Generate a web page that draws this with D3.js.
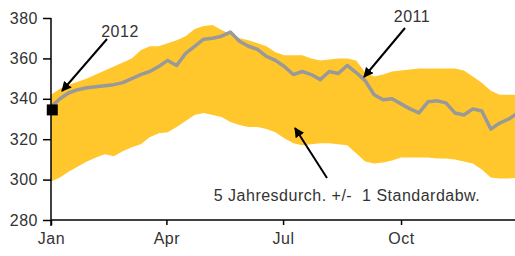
<html>
<head>
<meta charset="utf-8">
<script src="https://d3js.org/d3.v7.min.js"></script>
<style>
  body { margin: 0; background: white; }
  text { font-family: "Liberation Sans", Arial, sans-serif; fill: #333; letter-spacing: 0.5px; }
</style>
</head>
<body>
<svg id="chart" width="515" height="256"></svg>
<script>
// weekly values, week 0 = 1 Jan
var bandUpper = [342, 345, 347, 348.5, 350, 352, 354, 356, 358, 360, 364, 366, 366, 367.5, 369, 371, 374.5, 376, 376.5, 374,
                 372, 370, 369, 367.5, 366, 363, 361.5, 361.5, 361.5, 360, 359, 359.5, 360, 360, 359, 353, 351, 352, 353.5, 354,
                 354.5, 355, 355, 355, 355, 355, 354, 351, 348, 344, 342, 342, 342];
var bandLower = [299, 301, 304, 306.5, 309, 311, 312.5, 311.5, 314, 316, 317.5, 321, 323, 323.5, 326, 329, 332, 333, 332, 331,
                 328.5, 327, 326, 326, 325, 323.5, 320.5, 318, 317, 317.5, 318, 318, 317.5, 317, 313, 309, 308, 308.5, 309.5, 311,
                 311, 311, 311, 310.5, 310.5, 310, 309, 308, 305, 301, 300.5, 300.5, 301];
var line2011 = [336, 340, 343, 344.5, 345.5, 346, 346.5, 347, 348, 350, 352, 353.5, 356, 359, 356.5, 362.5, 366, 369.5, 370, 371,
                373, 368.5, 366, 364.5, 361, 359, 356, 352, 353.5, 352, 349.5, 353.5, 352.5, 356.5, 353, 349, 342, 339.5, 340, 337.5,
                335, 333, 338.5, 339, 338, 333, 332, 335, 334, 325, 328, 330, 333];
var value2012 = [334.5];
var yTicks = [280, 300, 320, 340, 360, 380];
var monthTicks = [0, 3, 6, 9];
var monthLabels = ["Jan", "Apr", "Jul", "Oct"];

var svg = d3.select("#chart");
var weekDate = function(i) { return new Date(2011, 0, 1 + 7 * i); };

var x = d3.scaleTime().domain([new Date(2011, 0, 1), new Date(2012, 0, 1)]).range([51, 519]);
var y = d3.scaleLinear().domain([280, 380]).range([220, 18]);

var band = bandUpper.map(function(u, i) { return { d: weekDate(i), hi: u, lo: bandLower[i] }; });

svg.append("path")
    .datum(band)
    .attr("fill", "#ffc72c")
    .attr("d", d3.area()
        .x(function(d) { return x(d.d); })
        .y0(function(d) { return y(d.lo); })
        .y1(function(d) { return y(d.hi); }));

svg.append("path")
    .datum(line2011)
    .attr("fill", "none")
    .attr("stroke", "#999")
    .attr("stroke-width", 3.5)
    .attr("stroke-linejoin", "round")
    .attr("d", d3.line()
        .x(function(d, i) { return x(weekDate(i)); })
        .y(function(d) { return y(d); }));

svg.selectAll("rect.y2012").data(value2012).enter().append("rect")
    .attr("class", "y2012")
    .attr("x", x(new Date(2011, 0, 2)) - 5.5)
    .attr("y", function(d) { return y(d) - 5.5; })
    .attr("width", 11)
    .attr("height", 11)
    .attr("fill", "black");

// axes
var yAxis = svg.append("g")
    .attr("transform", "translate(51,0)")
    .call(d3.axisLeft(y).tickValues(yTicks).tickSize(8).tickPadding(5));
yAxis.select(".domain").attr("stroke", "black").attr("stroke-width", 1.5).attr("d", "M0,18V226");
yAxis.selectAll(".tick line").attr("stroke", "black").attr("stroke-width", 1.5);
yAxis.selectAll("text").style("font-size", "16px").attr("fill", "#333");

var xAxis = svg.append("g")
    .attr("transform", "translate(0,220)")
    .call(d3.axisBottom(x)
        .tickValues(monthTicks.map(function(m) { return new Date(2011, m, 1); }))
        .tickFormat(function(d, i) { return monthLabels[i]; })
        .tickSize(5).tickPadding(8));
xAxis.select(".domain").attr("stroke", "black").attr("stroke-width", 1.5).attr("d", "M51,0H515");
xAxis.selectAll(".tick line").attr("stroke", "black").attr("stroke-width", 1.5);
xAxis.selectAll("text").style("font-size", "16px").attr("fill", "#333");

// annotations
svg.append("defs").append("marker")
    .attr("id", "arrow")
    .attr("viewBox", "0 0 10 10")
    .attr("refX", 9).attr("refY", 5)
    .attr("markerWidth", 5).attr("markerHeight", 5)
    .attr("orient", "auto")
    .append("path").attr("d", "M0,0L10,5L0,10z").attr("fill", "black");

var notes = [
    { text: "2012", tx: 120, ty: 37, x1: 107, y1: 39, x2: 62, y2: 91 },
    { text: "2011", tx: 412, ty: 22, x1: 405, y1: 28, x2: 364, y2: 77 },
    { text: "5 Jahresdurch. +/-  1 Standardabw.", tx: 347, ty: 201, x1: 327, y1: 178, x2: 295, y2: 128 }
];
notes.forEach(function(n) {
    svg.append("line")
        .attr("x1", n.x1).attr("y1", n.y1).attr("x2", n.x2).attr("y2", n.y2)
        .attr("stroke", "black").attr("stroke-width", 2)
        .attr("marker-end", "url(#arrow)");
    svg.append("text")
        .attr("x", n.tx).attr("y", n.ty)
        .attr("text-anchor", "middle")
        .style("font-size", "16px")
        .style("white-space", "pre")
        .text(n.text);
});
</script>
</body>
</html>
